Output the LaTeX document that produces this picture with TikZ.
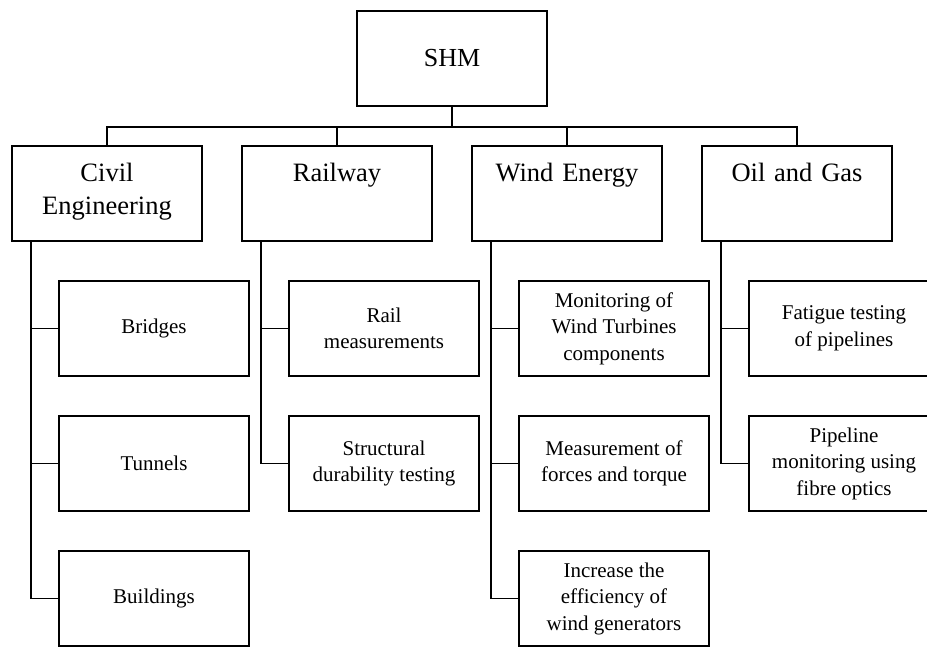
\documentclass[tikz,border=0pt]{standalone}
\usepackage{fontspec}
\setmainfont{Liberation Serif}
\usetikzlibrary{positioning}

\tikzset{
	rootbox/.style={draw, line width=1.2pt, outer sep=0pt, minimum width=190pt, minimum height=95pt, font=\fontsize{26}{32}\selectfont},
	areabox/.style={draw, line width=1.2pt, outer sep=0pt, inner sep=0pt, text width=190pt, align=center, text height=35pt, text depth=60pt, font=\fontsize{26.5}{33}\selectfont},
	itembox/.style={draw, line width=1.2pt, outer sep=0pt, inner sep=2pt, minimum width=190pt, minimum height=95pt, align=center, font=\fontsize{21}{26.5}\selectfont},
	link/.style={line width=1.2pt}
}

\begin{document}
\begin{tikzpicture}[x=1pt, y=1pt]
		\clip (0,0) rectangle (927,-646);
		\node[rootbox] (shm) at (452,-58.5) {SHM};
		\node[areabox, anchor=north west] (civil) at (12,-146) {Civil\\Engineering};
		\node[areabox, right=40pt of civil] (rail) {Railway};
		\node[areabox, right=40pt of rail] (wind) {Wind Energy};
		\node[areabox, right=40pt of wind] (oil) {Oil and Gas};
		\coordinate (bus) at (0,-127);
		\draw[link] (shm.south) -- (shm.south |- bus);
		\draw[link] (civil.north) -- (civil.north |- bus) -- (oil.north |- bus) -- (oil.north);
		\foreach \a in {rail,wind}
			\draw[link] (\a.north) -- (\a.north |- bus);
		% civil engineering
		\node[itembox, below right=40pt and 47pt of civil.south west] (bridges) {Bridges};
		\node[itembox, below=40pt of bridges] (tunnels) {Tunnels};
		\node[itembox, below=40pt of tunnels] (buildings) {Buildings};
		% railway
		\node[itembox, below right=40pt and 47pt of rail.south west] (railmeas) {Rail\\measurements};
		\node[itembox, below=40pt of railmeas] (durability) {Structural\\durability testing};
		% wind energy
		\node[itembox, below right=40pt and 47pt of wind.south west] (turbines) {Monitoring of\\Wind Turbines\\components};
		\node[itembox, below=40pt of turbines] (forces) {Measurement of\\forces and torque};
		\node[itembox, below=40pt of forces] (efficiency) {Increase the\\efficiency of\\wind generators};
		% oil and gas
		\node[itembox, below right=40pt and 47pt of oil.south west] (fatigue) {Fatigue testing\\of pipelines};
		\node[itembox, below=40pt of fatigue] (pipeline) {Pipeline\\monitoring using\\fibre optics};
		\foreach \p/\c in {civil/bridges, civil/tunnels, civil/buildings, rail/railmeas, rail/durability,
				wind/turbines, wind/forces, wind/efficiency, oil/fatigue, oil/pipeline}
			\draw[link] ([xshift=19pt]\p.south west) |- (\c.west);
	\end{tikzpicture}
\end{document}
